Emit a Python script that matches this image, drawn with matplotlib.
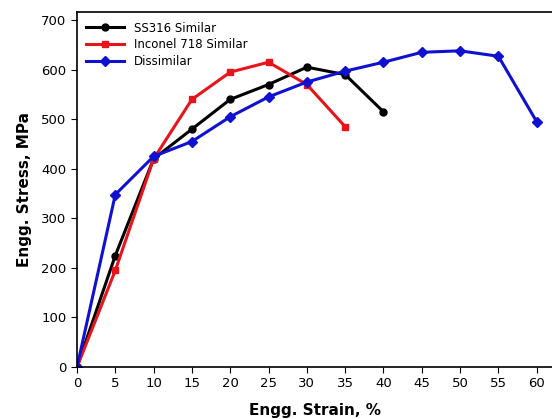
import matplotlib
matplotlib.use('Agg')
import matplotlib.pyplot as plt

strain_ss = [0, 5, 10, 15, 20, 25, 30, 35, 40]
stress_ss = [0, 225, 420, 480, 540, 570, 605, 590, 515]

strain_in = [0, 5, 10, 15, 20, 25, 30, 35]
stress_in = [0, 195, 420, 540, 595, 615, 570, 485]

strain_dis = [0, 5, 10, 15, 20, 25, 30, 35, 40, 45, 50, 55, 60]
stress_dis = [0, 348, 425, 455, 505, 545, 575, 597, 615, 635, 638, 627, 495]

xticks = list(range(0, 61, 5))
yticks = list(range(0, 701, 100))

fig = plt.figure(figsize=(5.52, 4.19), dpi=100)
ax = fig.add_axes([0.1395, 0.124, 0.8605, 0.847])

ax.plot(strain_ss, stress_ss, color='black', marker='o', markersize=5, linewidth=2.2, label='SS316 Similar')
ax.plot(strain_in, stress_in, color='#e8141c', marker='s', markersize=5, linewidth=2.2, label='Inconel 718 Similar')
ax.plot(strain_dis, stress_dis, color='#1010d0', marker='D', markersize=5, linewidth=2.2, label='Dissimilar')

ax.set_xlim(0, 62)
ax.set_ylim(0, 716)
ax.set_xticks(xticks)
ax.set_yticks(yticks)
ax.tick_params(labelsize=9.5, direction='out', length=4)
ax.spines['right'].set_visible(False)
for s in ['left', 'bottom', 'top']:
    ax.spines[s].set_linewidth(1.2)

ax.set_xlabel('Engg. Strain, %', fontsize=11, fontweight='bold', labelpad=9)
ax.set_ylabel('Engg. Stress, MPa', fontsize=11, fontweight='bold', labelpad=7)

ax.legend(loc='upper left', frameon=False, fontsize=8.5, handlelength=3.2,
          borderaxespad=0.4, labelspacing=0.3)

fig.savefig('out.png', dpi=100)
